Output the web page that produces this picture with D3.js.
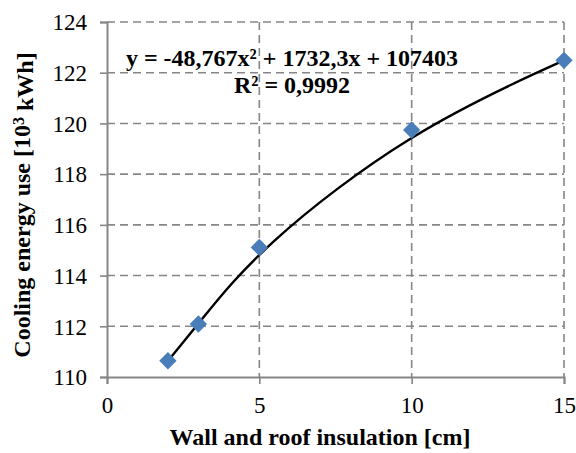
<!DOCTYPE html>
<html>
<head>
<meta charset="utf-8">
<script src="https://cdn.jsdelivr.net/npm/d3@7"></script>
<style>
  body { margin: 0; background: #fff; }
  svg text { font-family: "Liberation Serif", "Times New Roman", serif; }
</style>
</head>
<body>
<svg></svg>
<script>
// data
var insulation = [2, 3, 5, 10, 15];
var cooling = [110.64, 112.09, 115.11, 119.74, 122.49];
var xTicks = [0, 5, 10, 15];
var yTicks = [110, 112, 114, 116, 118, 120, 122, 124];
var equationLines = ['y = -48,767x² + 1732,3x + 107403', 'R² = 0,9992'];

var serif = '"Liberation Serif", "Times New Roman", serif';
var canvasWidth = 576;
var canvasHeight = 453;
var margin = { top: 22, right: 12, bottom: 76, left: 107 };
var width = canvasWidth - margin.left - margin.right;
var height = canvasHeight - margin.top - margin.bottom;

var svg = d3.select('svg')
  .attr('width', canvasWidth)
  .attr('height', canvasHeight);

var g = svg.append('g')
  .attr('transform', 'translate(' + margin.left + ',' + margin.top + ')');

var xScale = d3.scaleLinear().domain([0, 15]).range([0, width]);
var yScale = d3.scaleLinear().domain([110, 124]).range([height, 0]);

var gridColor = '#868686';

// horizontal grid
g.append('g').selectAll('line')
  .data(yTicks.slice(1))
  .enter().append('line')
  .attr('x1', 0).attr('x2', width)
  .attr('y1', function(d) { return yScale(d); })
  .attr('y2', function(d) { return yScale(d); })
  .attr('stroke', gridColor).attr('stroke-width', 1.6)
  .attr('stroke-dasharray', '8,5');

// vertical grid
g.append('g').selectAll('line')
  .data(xTicks.slice(1))
  .enter().append('line')
  .attr('x1', function(d) { return xScale(d); })
  .attr('x2', function(d) { return xScale(d); })
  .attr('y1', 0).attr('y2', height)
  .attr('stroke', gridColor).attr('stroke-width', 1.6)
  .attr('stroke-dasharray', '8,5');

// axes
var xAxis = g.append('g')
  .attr('transform', 'translate(0,' + height + ')')
  .call(d3.axisBottom(xScale).tickValues(xTicks).tickSize(7));
var yAxis = g.append('g')
  .call(d3.axisLeft(yScale).tickValues(yTicks).tickSize(7).tickPadding(13));

[xAxis, yAxis].forEach(function(ax) {
  ax.attr('font-family', serif);
  ax.select('.domain').attr('stroke', gridColor).attr('stroke-width', 2);
  ax.selectAll('.tick line').attr('stroke', gridColor).attr('stroke-width', 1.6);
  ax.selectAll('.tick text')
    .attr('fill', '#000')
    .style('font-family', serif)
    .style('font-size', '23px');
});
xAxis.selectAll('.tick text').attr('y', 36).attr('dy', 0);
yAxis.selectAll('.tick text').attr('dy', '0.34em');

// trend curve
var line = d3.line()
  .x(function(d, i) { return xScale(insulation[i]); })
  .y(function(d) { return yScale(d); })
  .curve(d3.curveBasis);

g.append('path')
  .datum(cooling)
  .attr('d', line)
  .attr('fill', 'none')
  .attr('stroke', '#000')
  .attr('stroke-width', 2.4);

// diamond markers
g.selectAll('.marker')
  .data(cooling)
  .enter().append('path')
  .attr('class', 'marker')
  .attr('d', d3.symbol().type(d3.symbolSquare).size(150))
  .attr('transform', function(d, i) {
    return 'translate(' + xScale(insulation[i]) + ',' + yScale(d) + ') rotate(45)';
  })
  .attr('fill', '#4a7ebb');

// equation label
svg.append('g').selectAll('text')
  .data(equationLines)
  .enter().append('text')
  .attr('x', 292)
  .attr('y', function(d, i) { return 66 + i * 27; })
  .attr('text-anchor', 'middle')
  .style('font-weight', 'bold')
  .style('font-size', '24px')
  .text(function(d) { return d; });

// axis titles
svg.append('text')
  .attr('x', 320)
  .attr('y', 445)
  .attr('text-anchor', 'middle')
  .style('font-weight', 'bold')
  .style('font-size', '24px')
  .text('Wall and roof insulation [cm]');

var yTitle = svg.append('text')
  .attr('transform', 'translate(30,205) rotate(-90)')
  .attr('text-anchor', 'middle')
  .style('font-weight', 'bold')
  .style('font-size', '24px');
yTitle.append('tspan').text('Cooling energy use [10');
yTitle.append('tspan').attr('dy', '-0.4em').style('font-size', '16px').text('3');
yTitle.append('tspan').attr('dy', '0.4em').text(' kWh]');
</script>
</body>
</html>
